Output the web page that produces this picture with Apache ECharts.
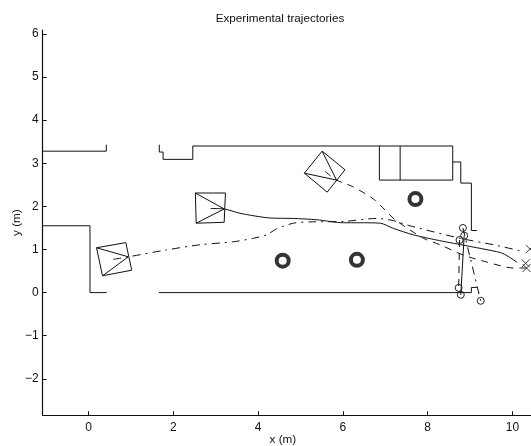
<!DOCTYPE html>
<html><head><meta charset="utf-8">
<style>html,body{margin:0;padding:0;background:#fff}#c{width:531px;height:446px}</style>
<script src="https://cdn.jsdelivr.net/npm/echarts@6/dist/echarts.min.js"></script>
</head><body><div id="c"></div>
<script>
const xTicks = [0, 2, 4, 6, 8, 10];
const yTicks = [-2, -1, 0, 1, 2, 3, 4, 5, 6];

const wallUpperLeft = [[-1.08,3.28],[0.42,3.28],[0.42,3.43]];
const wallLowerLeft = [[-1.08,1.55],[0.035,1.55],[0.035,0],[0.43,0]];
const wallBottom = [[1.66,0],[9.03,0],[9.03,0.12],[9.16,0.12]];
const wallTop = [[1.67,3.43],[1.67,3.26],[1.76,3.26],[1.76,3.09],[2.46,3.09],[2.46,3.40],[8.59,3.40],[8.59,3.03],[8.78,3.03],[8.78,2.54],[9.03,2.54],[9.03,1.44],[9.16,1.44]];
const cabinet = [[6.86,3.40],[6.86,2.61],[8.59,2.61],[8.59,3.03]];
const cabinetDivider = [[7.35,3.40],[7.35,2.61]];

const robotA = [[0.19,1.04],[0.88,1.16],[1.02,0.52],[0.33,0.39],[0.19,1.04],[0.94,0.83],[0.33,0.39]];
const robotB = [[2.52,2.31],[3.23,2.31],[3.20,1.63],[2.54,1.61],[2.52,2.31],[3.20,1.94],[2.54,1.61]];
const robotC = [[5.51,3.28],[6.05,2.85],[5.63,2.33],[5.09,2.77],[5.51,3.28],[5.85,2.61],[5.09,2.77]];

const pathSolid = [[2.88,1.95],[3.20,1.94],[3.57,1.84],[4.28,1.73],[4.83,1.72],[5.38,1.69],[6.01,1.62],[6.40,1.62],[6.88,1.61],[7.19,1.49],[7.66,1.34],[8.21,1.22],[8.84,1.10],[9.71,0.93],[9.90,0.84],[10.11,0.70]];
const pathDashDot = [[0.58,0.77],[0.94,0.83],[1.84,0.99],[2.63,1.11],[3.42,1.18],[3.89,1.26],[4.20,1.34],[4.44,1.48],[4.83,1.61],[5.22,1.64],[6.01,1.65],[6.80,1.72],[7.19,1.67],[7.58,1.55],[8.76,1.26],[9.55,1.11],[10.18,0.97]];
const pathDashed = [[5.58,2.81],[5.85,2.61],[6.25,2.45],[6.72,2.17],[6.99,1.92],[7.23,1.69],[7.90,1.26],[8.29,1.11],[8.84,0.87],[9.39,0.71],[10.02,0.57],[10.33,0.57]];

const endSolid = [[8.86,1.32],[8.78,-0.05]];
const endDashed = [[8.75,1.22],[8.73,0.11]];
const endDashDot = [[8.83,1.50],[9.25,-0.19]];
const crossMarks = [[10.31,0.68],[10.33,0.57],[10.41,1.01]];
const obstacles = [[4.58,0.74],[6.33,0.76],[7.71,2.17]];

const INK = '#111';
const dash = [7, 6];
const dashDot = [8, 5, 2, 5];
const plain = d => ({type:'line',data:d,showSymbol:false,silent:true,animation:false,clip:false,
  lineStyle:{color:INK,width:1,cap:'butt',join:'miter'}});
const styled = (d,t) => ({type:'line',data:d,showSymbol:false,silent:true,animation:false,clip:false,smooth:0.25,
  lineStyle:{color:INK,width:1,type:t}});
const circled = (d,t) => ({type:'line',data:d,symbol:'circle',symbolSize:7,showSymbol:true,showAllSymbols:true,silent:true,animation:false,clip:false,
  itemStyle:{color:'rgba(255,255,255,0)',borderColor:'#222',borderWidth:1},
  lineStyle:{color:INK,width:1,type:t}});

const crossPath = 'path://M0 0L10 10M10 0L0 10';

const option = {
  animation:false,
  backgroundColor:'#fff',
  textStyle:{fontFamily:'"Liberation Sans",Arial,sans-serif'},
  title:{text:'Experimental trajectories',left:275,top:8,textAlign:'center',
    textStyle:{fontSize:11.7,fontWeight:'normal',color:'#111',fontFamily:'"Liberation Sans",Arial,sans-serif',align:'center'}},
  grid:{left:42.7,top:30,right:0,bottom:30.7,containLabel:false,outerBoundsMode:'none'},
  xAxis:{type:'value',min:-1.08,max:10.436,
    name:'x (m)',nameLocation:'middle',nameGap:18,nameMoveOverlap:false,
    nameTextStyle:{fontSize:11.7,color:'#111',padding:[0,8,0,0]},
    splitLine:{show:false},
    axisLine:{onZero:false,lineStyle:{color:'#111',width:1.2}},
    axisTick:{inside:true,length:4,customValues:xTicks,lineStyle:{color:'#111',width:1}},
    axisLabel:{customValues:xTicks,fontSize:12,color:'#111',margin:6,hideOverlap:false}},
  yAxis:{type:'value',min:-2.845,max:6.09,
    name:'y (m)',nameLocation:'middle',nameGap:20,nameRotate:90,nameMoveOverlap:false,
    nameTextStyle:{fontSize:11.7,color:'#111'},
    splitLine:{show:false},
    axisLine:{onZero:false,lineStyle:{color:'#111',width:1.2}},
    axisTick:{inside:true,length:4,customValues:yTicks,lineStyle:{color:'#111',width:1}},
    axisLabel:{customValues:yTicks,fontSize:12,color:'#111',margin:4,
      formatter:v=>String(v).replace('-','\u2212')}},
  series:[
    plain(wallUpperLeft),plain(wallLowerLeft),plain(wallBottom),plain(wallTop),plain(cabinet),plain(cabinetDivider),
    plain(robotA),plain(robotB),plain(robotC),
    styled(pathSolid,'solid'),styled(pathDashDot,dashDot),styled(pathDashed,dash),
    circled(endSolid,'solid'),circled(endDashed,dash),circled(endDashDot,dashDot),
    {type:'scatter',data:crossMarks,symbol:crossPath,symbolSize:8,silent:true,animation:false,clip:false,
      itemStyle:{color:'none',borderColor:INK,borderWidth:1}},
    {type:'scatter',data:obstacles,symbol:'circle',symbolSize:12,silent:true,animation:false,clip:false,
      itemStyle:{color:'rgba(255,255,255,0)',borderColor:'#000',borderWidth:4}}
  ]
};
echarts.init(document.getElementById('c'),null,{renderer:'canvas'}).setOption(option);
</script></body></html>
